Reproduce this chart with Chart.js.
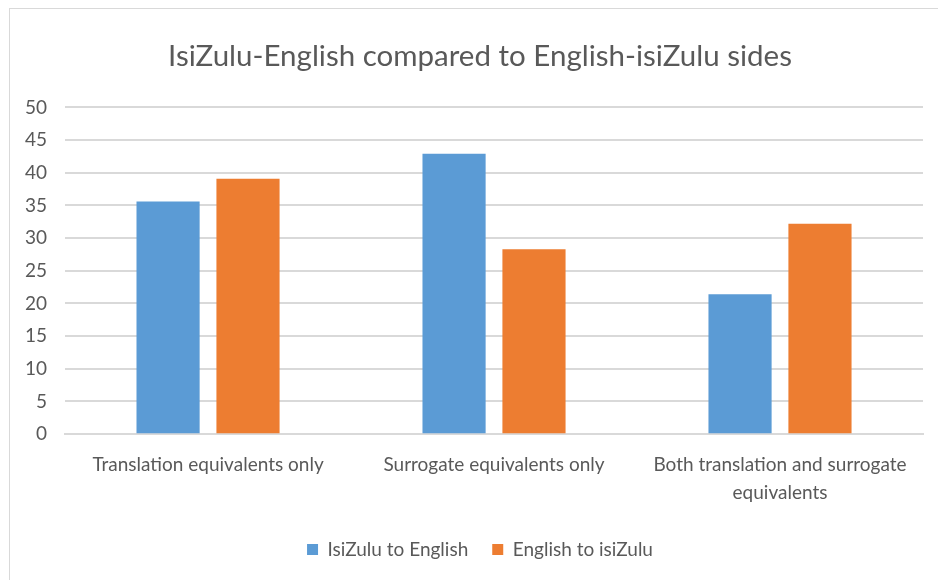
<!DOCTYPE html>
<html lang="en">
<head>
    <meta charset="UTF-8">
    <title>IsiZulu-English compared to English-isiZulu sides</title>
    <script src="https://cdn.jsdelivr.net/npm/chart.js"></script>
    <style>
        body { margin: 0; padding: 0; overflow: hidden; background: white; }
        #frame { position: absolute; left: 9px; top: 8px; width: 940px; height: 590px; border-left: 1px solid #d9d9d9; border-top: 1px solid #d9d9d9; }
        #chartBox { position: absolute; left: 0; top: 0; width: 938px; height: 580px; }
    </style>
</head>
<body>
    <div id="frame"></div>
    <div id="chartBox">
        <canvas id="chartCanvas"></canvas>
    </div>

    <script>
        const categories = [
            'Translation equivalents only',
            'Surrogate equivalents only',
            ['Both translation and surrogate', 'equivalents']
        ];
        const seriesNames = ['IsiZulu to English', 'English to isiZulu'];
        const zuluToEnglish = [35.6, 42.9, 21.4];
        const englishToZulu = [39.1, 28.3, 32.2];
        const yTicks = [0, 5, 10, 15, 20, 25, 30, 35, 40, 45, 50];

        const textColor = '#595959';
        const fontFamily = 'Lato, "Open Sans", sans-serif';

        // excel centres title and legend on the whole frame, not after the y labels
        const recentre = {
            id: 'recentre',
            afterLayout(chart) {
                if (chart.titleBlock) chart.titleBlock.left = 37;
                if (chart.legend) chart.legend.left = 37;
            }
        };

        function init() {
            const ctx = document.getElementById('chartCanvas').getContext('2d');
            new Chart(ctx, {
                type: 'bar',
                data: {
                    labels: categories,
                    datasets: [{
                        label: seriesNames[0],
                        data: zuluToEnglish,
                        backgroundColor: '#5b9bd5',
                        categoryPercentage: 0.559,
                        barPercentage: 0.79
                    }, {
                        label: seriesNames[1],
                        data: englishToZulu,
                        backgroundColor: '#ed7d31',
                        categoryPercentage: 0.559,
                        barPercentage: 0.79
                    }]
                },
                plugins: [recentre],
                options: {
                    responsive: true,
                    maintainAspectRatio: false,
                    animation: false,
                    layout: { padding: { left: 7, right: 15, top: 22, bottom: 11 } },
                    plugins: {
                        title: {
                            display: true,
                            text: 'IsiZulu-English compared to English-isiZulu sides',
                            color: textColor,
                            font: { family: fontFamily, size: 29.5, weight: 'normal' },
                            padding: { top: 17, bottom: 33 }
                        },
                        legend: {
                            position: 'bottom',
                            labels: {
                                color: textColor,
                                font: { family: fontFamily, size: 19 },
                                boxWidth: 11,
                                boxHeight: 11,
                                padding: 24
                            }
                        },
                        tooltip: { enabled: false }
                    },
                    scales: {
                        x: {
                            grid: { display: false },
                            border: { color: '#d9d9d9', width: 2 },
                            ticks: {
                                color: textColor,
                                font: { family: fontFamily, size: 19, lineHeight: 1.47 },
                                maxRotation: 0,
                                autoSkip: false,
                                padding: 9
                            }
                        },
                        y: {
                            min: 0,
                            max: 50,
                            afterBuildTicks: axis => { axis.ticks = yTicks.map(v => ({ value: v })); },
                            grid: { color: '#d9d9d9', lineWidth: 2, drawTicks: false },
                            border: { display: false },
                            ticks: {
                                color: textColor,
                                font: { family: fontFamily, size: 19 },
                                padding: 18
                            }
                        }
                    }
                }
            });
        }

        window.onload = init;
    </script>
</body>
</html>
